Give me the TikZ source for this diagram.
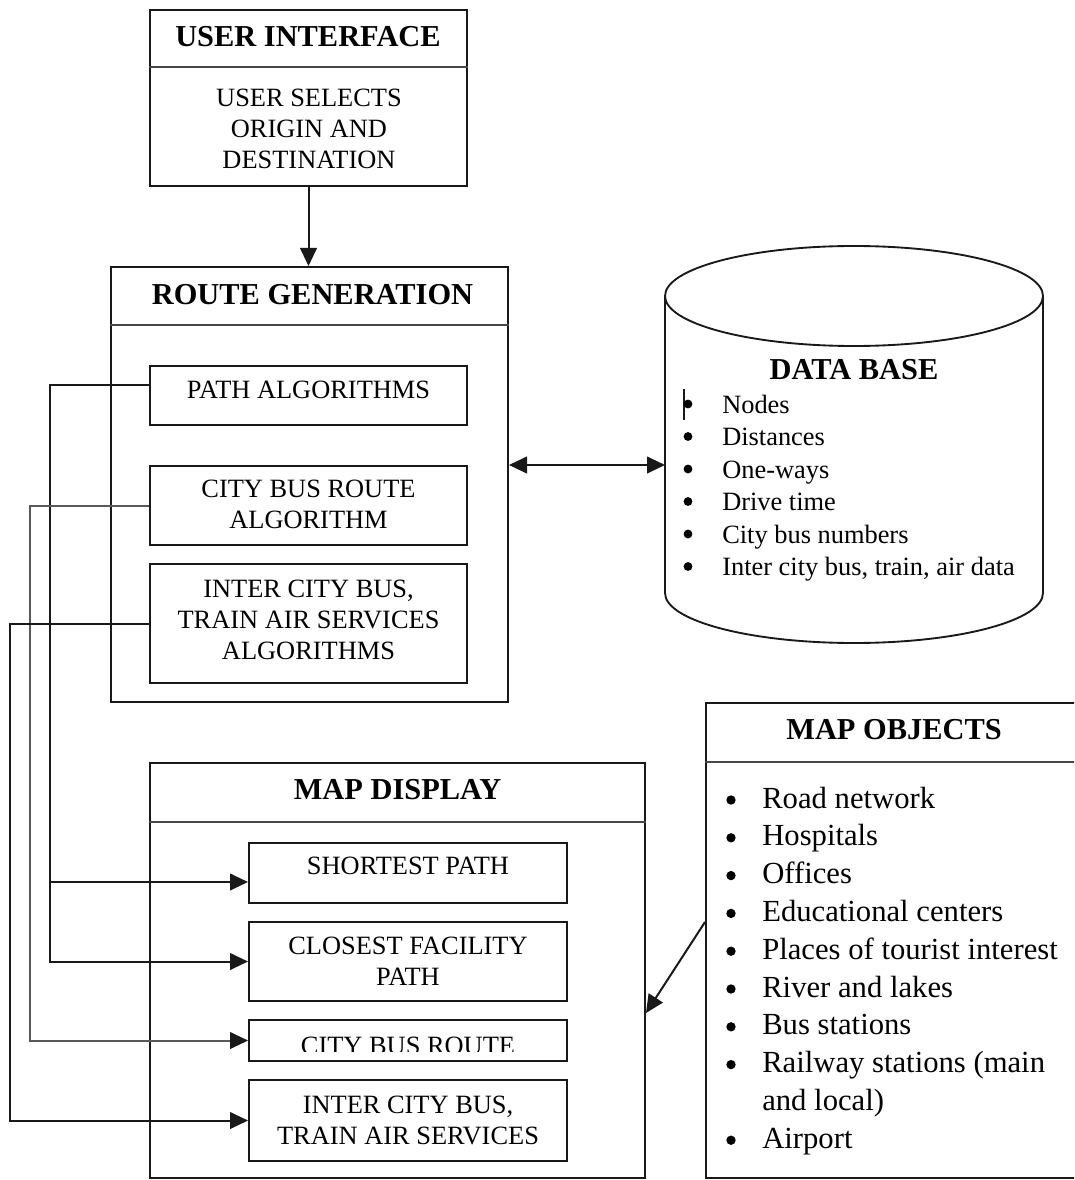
\documentclass[tikz,border=0pt]{standalone}
\usepackage{fontspec}
\setmainfont{Liberation Serif}
\usetikzlibrary{arrows.meta,calc}

\definecolor{ink}{gray}{0.10}
\definecolor{softink}{gray}{0.35}

\begin{document}
\begin{tikzpicture}[
  x=0.75pt, y=-0.75pt,
  box/.style 2 args={draw=ink, line width=1.5pt, inner sep=0pt,
    minimum width=#1*0.75pt, minimum height=#2*0.75pt},
  rule/.style={draw=ink!80, line width=1.5pt},
  head/.style={font=\fontsize{22.8}{27}\selectfont\bfseries, inner sep=0pt, text=black},
  boxtxt/.style={font=\fontsize{19.8}{23.25}\selectfont, align=center, inner sep=0pt, text=black},
  dbitem/.style={font=\fontsize{19.8}{24}\selectfont, anchor=base west, inner sep=0pt, text=black},
  moitem/.style={font=\fontsize{23}{28}\selectfont, anchor=base west, inner sep=0pt, text=black},
  link/.style={draw=ink, line width=1.5pt},
  greylink/.style={draw=softink, line width=1.5pt},
  tip/.style={-{Triangle[length=13.5pt,width=12.5pt,color=ink]}},
  twotips/.style={{Triangle[length=13.5pt,width=12.5pt]}-{Triangle[length=13.5pt,width=12.5pt]}},
]
\useasboundingbox (0,0) rectangle (1074,1180);
\clip (0,0) rectangle (1074,1180);

% ---------- user interface ----------
\node[box={317}{176}] (ui) at (308.5,98) {};
\draw[rule] ($(ui.north west)+(0,58)$) -- ($(ui.north east)+(0,58)$);
\node[head] (uiH) at (308,37) {USER INTERFACE};
\node[boxtxt] (uiT) at (309,129) {USER SELECTS\\ORIGIN AND\\DESTINATION};

% ---------- route generation ----------
\node[box={397}{435}] (rg) at (309.5,484.5) {};
\draw[rule] ($(rg.north west)+(0,59)$) -- ($(rg.north east)+(0,59)$);
\node[head] (rgH) at (312.5,295) {ROUTE GENERATION};

\node[box={317}{59}] (pa) at (308.5,395.5) {};
\node[boxtxt] (paT) at (308.5,390) {PATH ALGORITHMS};
\node[box={317}{79}] (cb) at (308.5,505.5) {};
\node[boxtxt] (cbT) at (308.5,504) {CITY BUS ROUTE\\ALGORITHM};
\node[box={317}{119}] (ic) at (308.5,623.5) {};
\node[boxtxt] (icT) at (308.5,620) {INTER CITY BUS,\\TRAIN AIR SERVICES\\ALGORITHMS};

\draw[link,tip] (ui.south) -- (ui.south |- rg.north);

% ---------- data base (cylinder) ----------
\coordinate (dbL) at (665,465);
\draw[ink, line width=1.4pt] (665,296) -- (665,593)
  arc[start angle=180, end angle=360, x radius=189*0.75pt, y radius=50*0.75pt]
  -- (1043,296);
\draw[ink, line width=1.4pt] (854,296) ellipse[x radius=189*0.75pt, y radius=50*0.75pt];
\node[head] (dbH) at (854,370) {DATA BASE};
\draw[ink, line width=1pt] (684,389) -- (684,420);
\foreach \t [count=\i from 0] in {Nodes, Distances, One-ways, Drive time,
    City bus numbers, {Inter city bus, train, air data}} {
  \fill[black] (688,{404+32.5*\i}) circle[radius=3.3pt];
  \node[dbitem] (db-\i) at (722,{413+32.5*\i}) {\t};
}
\draw[link,twotips] ($(rg.east)+(0,-19.5)$) -- (dbL);

% ---------- map display ----------
\node[box={495}{415}] (md) at (397.5,970.5) {};
\draw[rule] ($(md.north west)+(0,60)$) -- ($(md.north east)+(0,60)$);
\node[head] (mdH) at (397.5,790) {MAP DISPLAY};

\node[box={318}{60}] (sp) at (408,873) {};
\node[boxtxt] (spT) at (408,866) {SHORTEST PATH};
\node[box={318}{79}] (cf) at (408,961.5) {};
\node[boxtxt] (cfT) at (408,961) {CLOSEST FACILITY\\PATH};
\begin{scope}
  % the label is cut off by the lower edge of its text frame
  \clip (249,1020) rectangle (567,1051);
  \node[boxtxt] (crT) at (408,1046) {CITY BUS ROUTE};
\end{scope}
\node[box={318}{41}] (cr) at (408,1040.5) {};
\node[box={318}{81}] (it) at (408,1120.5) {};
\node[boxtxt] (itT) at (408,1120) {INTER CITY BUS,\\TRAIN AIR SERVICES};

% ---------- map objects (frame runs past the right edge) ----------
\node[box={380}{475}] (mo) at (896,940.5) {};
\draw[rule] ($(mo.north west)+(0,60)$) -- ($(mo.north east)+(0,60)$);
\node[head] (moH) at (894,730) {MAP OBJECTS};
\foreach \t [count=\i from 0] in {Road network, Hospitals, Offices,
    Educational centers, Places of tourist interest, River and lakes,
    Bus stations, Railway stations (main} {
  \fill[black] (731,{800+37.8*\i}) circle[radius=3.5pt];
  \node[moitem] (mo-\i) at (762,{808+37.8*\i}) {\t};
}
\node[moitem] (mo-8) at (762,{808+37.8*8}) {and local)};
\fill[black] (731,{800+37.8*9}) circle[radius=3.5pt];
\node[moitem] (mo-9) at (762,{808+37.8*9}) {Airport};

\draw[link,tip] ($(mo.west)+(0,-18.5)$) -- ($(md.east)+(0,42.5)$);

% ---------- algorithm outputs routed to the map display ----------
\draw[link,tip] ($(pa.west)+(0,-10.5)$) -| ($(sp.west)+(-198,9)$) -- ($(sp.west)+(0,9)$);
\draw[link,tip] ($(sp.west)+(-198,9)$) |- (cf.west);
\draw[greylink,tip] (cb.west) -| ($(cr.west)+(-218,0)$) -- (cr.west);
\draw[link,tip] (ic.west) -| ($(it.west)+(-238,0)$) -- (it.west);
\end{tikzpicture}
\end{document}
